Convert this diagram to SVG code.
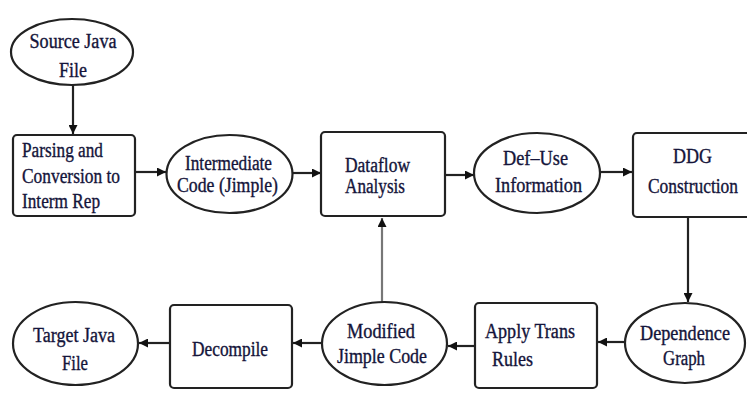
<svg xmlns="http://www.w3.org/2000/svg" width="747" height="396" viewBox="0 0 747 396">
<defs>
<marker id="ah" viewBox="0 0 10 10" refX="10" refY="5" markerWidth="10" markerHeight="9" markerUnits="userSpaceOnUse" orient="auto">
<path d="M0,0 L10,5 L0,10 Z" fill="#111"/>
</marker>
<style>
.n{fill:#fff;stroke:#222;stroke-width:2.2}
.t{font-family:'Liberation Serif','Times New Roman',serif;font-size:20px;fill:#14143a;stroke:#14143a;stroke-width:0.35}
.m{text-anchor:middle}
.e{fill:none;stroke:#222;stroke-width:2.2;marker-end:url(#ah)}
</style>
</defs>
<rect width="747" height="396" fill="#fff"/>
<g id="connectors">
<line class="e" x1="73" y1="85" x2="73" y2="134"/>
<line class="e" x1="135" y1="172" x2="166" y2="172"/>
<line class="e" x1="292" y1="173" x2="321" y2="173"/>
<line class="e" x1="445" y1="175" x2="474" y2="175"/>
<line class="e" x1="600" y1="172" x2="632" y2="172"/>
<line class="e" x1="688" y1="217" x2="688" y2="302"/>
<line class="e" x1="625" y1="342" x2="598" y2="342"/>
<line class="e" x1="475" y1="346" x2="448" y2="346"/>
<line class="e" x1="382" y1="302" x2="382" y2="218" style="stroke:#777"/>
<line class="e" x1="322" y1="343" x2="293" y2="343"/>
<line class="e" x1="170" y1="343" x2="139" y2="343"/>
</g>
<g id="source">
<ellipse class="n" cx="72" cy="52" rx="61" ry="33"/>
<text class="t m" x="73" y="48" textLength="87" lengthAdjust="spacingAndGlyphs">Source Java</text>
<text class="t m" x="73" y="77" textLength="28" lengthAdjust="spacingAndGlyphs">File</text>
</g>
<g id="parsing">
<rect class="n" x="13" y="135" width="122" height="81" rx="4"/>
<text class="t" x="22" y="157" textLength="81" lengthAdjust="spacingAndGlyphs">Parsing and</text>
<text class="t" x="22" y="183" textLength="98" lengthAdjust="spacingAndGlyphs">Conversion to</text>
<text class="t" x="22" y="208" textLength="78" lengthAdjust="spacingAndGlyphs">Interm Rep</text>
</g>
<g id="intermediate">
<ellipse class="n" cx="229.5" cy="174" rx="63" ry="39"/>
<text class="t m" x="228.5" y="170" textLength="87" lengthAdjust="spacingAndGlyphs">Intermediate</text>
<text class="t m" x="227.5" y="192" textLength="101" lengthAdjust="spacingAndGlyphs">Code (Jimple)</text>
</g>
<g id="dataflow">
<rect class="n" x="321" y="132" width="124" height="84" rx="4"/>
<text class="t" x="345" y="172" textLength="65" lengthAdjust="spacingAndGlyphs">Dataflow</text>
<text class="t" x="345" y="193" textLength="60" lengthAdjust="spacingAndGlyphs">Analysis</text>
</g>
<g id="defuse">
<ellipse class="n" cx="537" cy="173" rx="63" ry="40"/>
<text class="t m" x="535.5" y="165" textLength="65" lengthAdjust="spacingAndGlyphs">Def–Use</text>
<text class="t m" x="538.5" y="192" textLength="87" lengthAdjust="spacingAndGlyphs">Information</text>
</g>
<g id="ddg">
<rect class="n" x="633" y="133" width="120" height="84" rx="4"/>
<text class="t m" x="692.5" y="163" textLength="39" lengthAdjust="spacingAndGlyphs">DDG</text>
<text class="t m" x="693" y="193" textLength="90" lengthAdjust="spacingAndGlyphs">Construction</text>
</g>
<g id="dependence">
<ellipse class="n" cx="685" cy="343" rx="60" ry="40"/>
<text class="t m" x="685" y="340" textLength="90" lengthAdjust="spacingAndGlyphs">Dependence</text>
<text class="t m" x="684" y="365" textLength="42" lengthAdjust="spacingAndGlyphs">Graph</text>
</g>
<g id="apply">
<rect class="n" x="475" y="303" width="122" height="85" rx="4"/>
<text class="t" x="485" y="338" textLength="90" lengthAdjust="spacingAndGlyphs">Apply Trans</text>
<text class="t" x="492" y="366" textLength="41" lengthAdjust="spacingAndGlyphs">Rules</text>
</g>
<g id="modified">
<ellipse class="n" cx="384.5" cy="343.5" rx="62.5" ry="41.5"/>
<text class="t m" x="381" y="338" textLength="68" lengthAdjust="spacingAndGlyphs">Modified</text>
<text class="t m" x="382" y="363" textLength="90" lengthAdjust="spacingAndGlyphs">Jimple Code</text>
</g>
<g id="decompile">
<rect class="n" x="170" y="305" width="122" height="83" rx="4"/>
<text class="t" x="192" y="356" textLength="76" lengthAdjust="spacingAndGlyphs">Decompile</text>
</g>
<g id="target">
<ellipse class="n" cx="75.5" cy="343.5" rx="62.5" ry="41.5"/>
<text class="t m" x="74" y="342" textLength="82" lengthAdjust="spacingAndGlyphs">Target Java</text>
<text class="t m" x="75" y="370" textLength="26" lengthAdjust="spacingAndGlyphs">File</text>
</g>
</svg>
